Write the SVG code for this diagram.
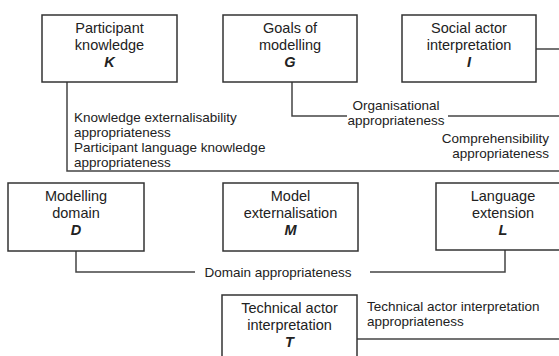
<svg xmlns="http://www.w3.org/2000/svg" width="559" height="356" viewBox="0 0 559 356">
<style>
.box{fill:#fff;stroke:#333;stroke-width:1.5}
.t{font-family:"Liberation Sans",Arial,sans-serif;font-size:14.5px;fill:#222;text-anchor:middle}
.b{font-weight:bold;font-style:italic}
.l{font-family:"Liberation Sans",Arial,sans-serif;font-size:13.5px;fill:#222}
.c{fill:none;stroke:#444;stroke-width:1.5}
</style>
<rect width="559" height="356" fill="#fff"/>
<g id="connectors">
<polyline class="c" points="67,82 67,171 559,171"/>
<polyline class="c" points="292,82 292,116 347,116"/>
<line class="c" x1="448" y1="116" x2="559" y2="116"/>
<line class="c" x1="536" y1="49" x2="559" y2="49"/>
<polyline class="c" points="76,251 76,272 195,272"/>
<polyline class="c" points="370,272 505,272 505,250"/>
<line class="c" x1="357" y1="339" x2="559" y2="339"/>
<text class="l" x="74" y="122">Knowledge externalisability</text>
<text class="l" x="74" y="137">appropriateness</text>
<text class="l" x="74" y="152">Participant language knowledge</text>
<text class="l" x="74" y="167">appropriateness</text>
<text class="l" x="396" y="110" text-anchor="middle">Organisational</text>
<text class="l" x="396" y="125" text-anchor="middle">appropriateness</text>
<text class="l" x="549" y="143" text-anchor="end">Comprehensibility</text>
<text class="l" x="549" y="158" text-anchor="end">appropriateness</text>
<text class="l" x="278" y="277" text-anchor="middle">Domain appropriateness</text>
<text class="l" x="367" y="311">Technical actor interpretation</text>
<text class="l" x="367" y="326">appropriateness</text>
</g>
<g id="K">
<rect class="box" x="42" y="15" width="135" height="67"/>
<text class="t" x="109.5" y="33">Participant</text>
<text class="t" x="109.5" y="50">knowledge</text>
<text class="t b" x="109.5" y="67">K</text>
</g>
<g id="G">
<rect class="box" x="223" y="15" width="134" height="67"/>
<text class="t" x="290" y="33">Goals of</text>
<text class="t" x="290" y="50">modelling</text>
<text class="t b" x="290" y="67">G</text>
</g>
<g id="I">
<rect class="box" x="402" y="15" width="134" height="67"/>
<text class="t" x="469" y="33">Social actor</text>
<text class="t" x="469" y="50">interpretation</text>
<text class="t b" x="469" y="67">I</text>
</g>
<g id="D">
<rect class="box" x="8" y="183" width="136" height="68"/>
<text class="t" x="76" y="201">Modelling</text>
<text class="t" x="76" y="218">domain</text>
<text class="t b" x="76" y="235">D</text>
</g>
<g id="M">
<rect class="box" x="223" y="183" width="135" height="68"/>
<text class="t" x="290.5" y="201">Model</text>
<text class="t" x="290.5" y="218">externalisation</text>
<text class="t b" x="290.5" y="235">M</text>
</g>
<g id="L">
<rect class="box" x="436" y="183" width="135" height="67"/>
<text class="t" x="503" y="201">Language</text>
<text class="t" x="503" y="218">extension</text>
<text class="t b" x="503" y="235">L</text>
</g>
<g id="T">
<rect class="box" x="222" y="295" width="135" height="70"/>
<text class="t" x="289.5" y="313">Technical actor</text>
<text class="t" x="289.5" y="330">interpretation</text>
<text class="t b" x="289.5" y="347">T</text>
</g>
</svg>
